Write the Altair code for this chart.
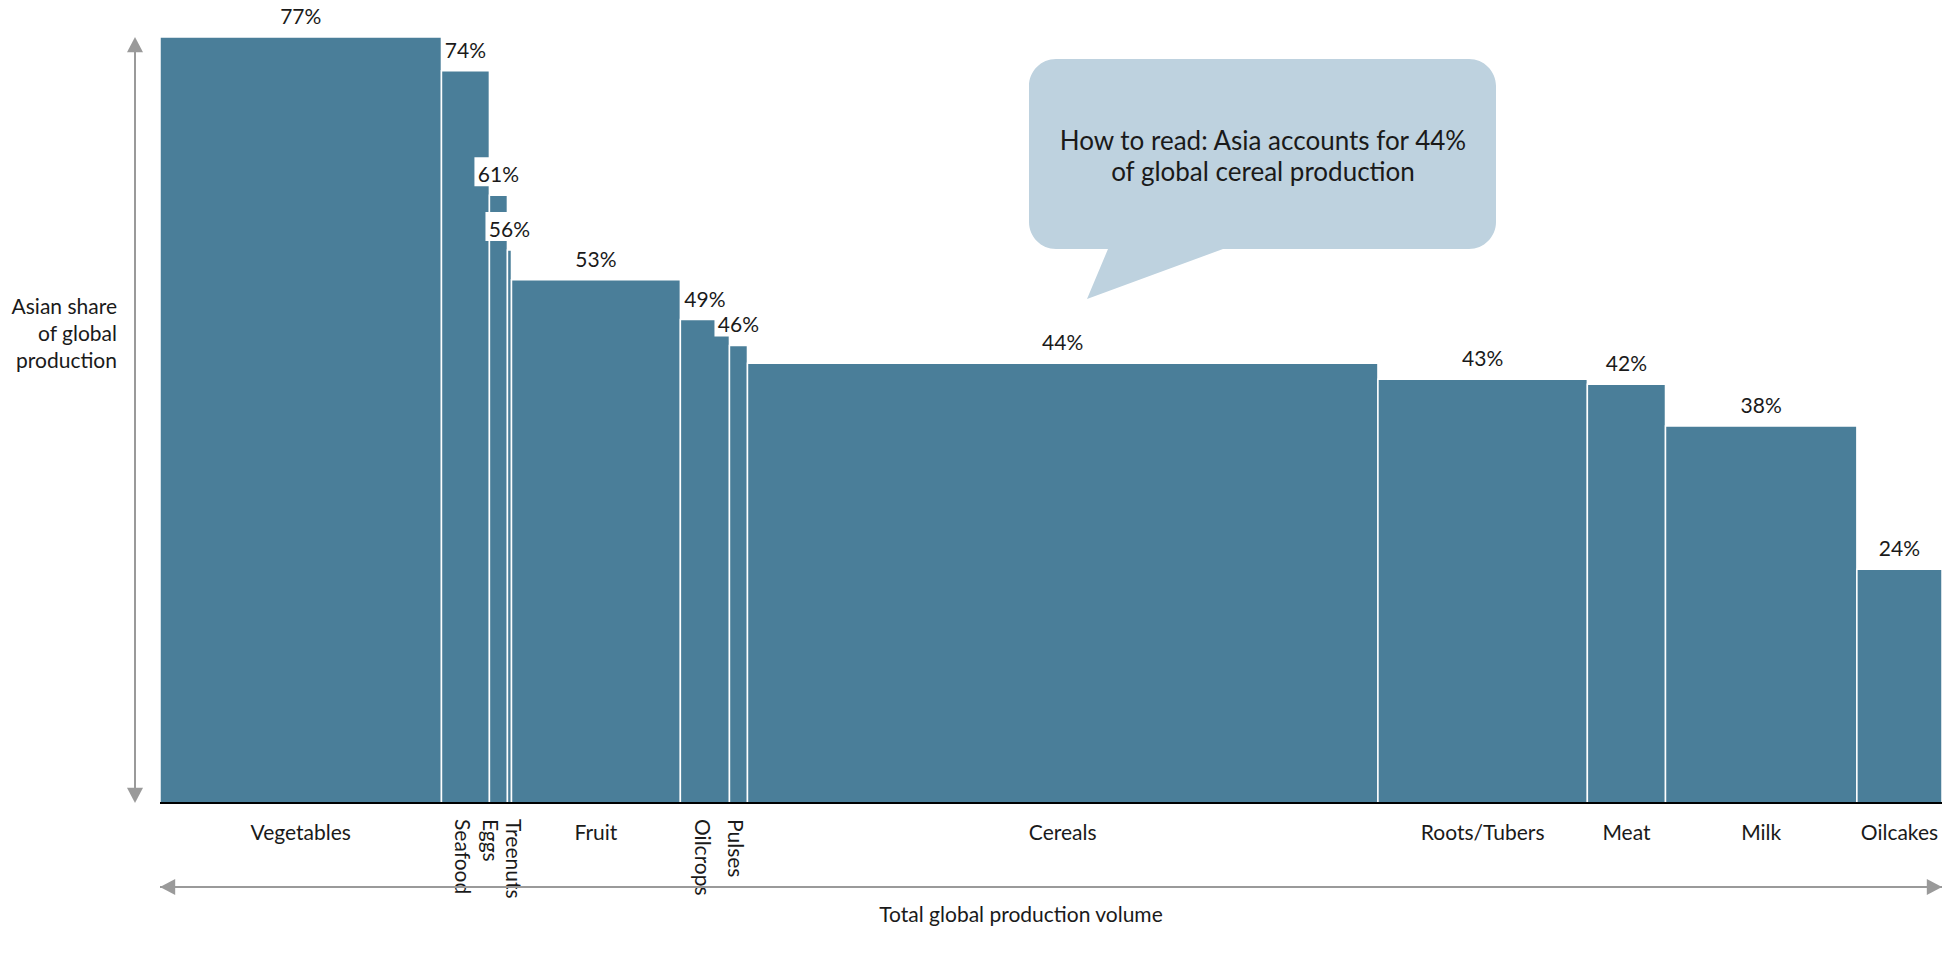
import altair as alt
import pandas as pd

# ---- data ----
categories = ["Vegetables", "Seafood", "Eggs", "Treenuts", "Fruit", "Oilcrops",
              "Pulses", "Cereals", "Roots/Tubers", "Meat", "Milk", "Oilcakes"]
# Asian share of global production (%), bar heights as drawn (labels are rounded)
asia_share = [77.0, 73.6, 61.1, 55.6, 52.6, 48.6, 46.0, 44.2, 42.6, 42.1, 37.9, 23.5]
# total global production (million tonnes)
global_volume = [1250, 213, 80, 18, 750, 218, 80, 2800, 930, 347, 850, 378]

callout_lines = "How to read: Asia accounts for 44%\nof global cereal production"
y_title = "Asian share\nof global\nproduction"
x_title = "Total global production volume"

# ---- table built from the arrays ----
df = pd.DataFrame({"category": categories, "share": asia_share, "volume": global_volume})
df["x_end"] = df["volume"].cumsum()
df["x_start"] = df["x_end"] - df["volume"]
df["x_mid"] = (df["x_start"] + df["x_end"]) / 2
df["label"] = [f"{int(v + 0.5)}%" for v in asia_share]
total = float(df["volume"].sum())
ymax = float(max(asia_share))

one = pd.DataFrame({"k": [0]})

FONT = "Lato"
FS = 21
BAR = "#4a7e99"
TXT = "#1a1a1a"
GREY = "#9a9a9a"
CALLOUT = "#bed2df"

W, H = 1782, 766
TOP = 29

xs = alt.Scale(domain=[0, total], nice=False, zero=True)
ys = alt.Scale(domain=[0, ymax], nice=False, zero=True)

base = alt.Chart(df)

bars = base.mark_rect(fill=BAR, stroke="white", strokeWidth=1.5).encode(
    x=alt.X("x_start:Q", scale=xs, axis=None),
    x2="x_end:Q",
    y=alt.Y("share:Q", scale=ys, axis=None),
    y2=alt.datum(0),
)

# white label boxes (pixel-sized rectangle anchored at the top centre of each bar)
label_box = base.mark_point(shape="M-24,-38H21V-9H-24Z", size=4, filled=True, fill="white", opacity=1).encode(
    x="x_mid:Q", y="share:Q")
pct = base.mark_text(font=FONT, fontSize=FS, fill=TXT, align="center", baseline="alphabetic", dy=-13).encode(
    x="x_mid:Q", y="share:Q", text="label:N")

# category labels: horizontal for wide bars, rotated for narrow ones
horiz = base.transform_filter("datum.volume >= 300").mark_text(
    font=FONT, fontSize=FS, fill=TXT, align="center", baseline="alphabetic", dy=37
).encode(x="x_mid:Q", y=alt.datum(0), text="category:N")

rot_kw = dict(font=FONT, fontSize=FS, fill=TXT, angle=90, align="left", baseline="middle", dx=16)
rot_a = base.transform_filter(
    "datum.volume < 300 && datum.category != 'Eggs' && datum.category != 'Treenuts'"
).mark_text(dy=4, **rot_kw).encode(x="x_mid:Q", y=alt.datum(0), text="category:N")
rot_b = base.transform_filter("datum.category == 'Eggs'").mark_text(dy=9, **rot_kw).encode(
    x="x_mid:Q", y=alt.datum(0), text="category:N")
rot_c = base.transform_filter("datum.category == 'Treenuts'").mark_text(dy=-3, **rot_kw).encode(
    x="x_mid:Q", y=alt.datum(0), text="category:N")

# baseline (x axis line)
axis_line = alt.Chart(one).mark_rule(color="black", strokeWidth=2).encode(
    x=alt.datum(0), x2=alt.datum(total), y=alt.datum(0))

# vertical double arrow on the left
v_line = alt.Chart(one).mark_rule(color=GREY, strokeWidth=2).encode(
    x=alt.value(-25), y=alt.value(10), y2=alt.value(H - 10))
v_up = alt.Chart(one).mark_point(shape="M0,0L1,1.9L-1,1.9Z", size=256, filled=True, fill=GREY,
                                 opacity=1).encode(x=alt.value(-25), y=alt.datum(ymax))
v_down = alt.Chart(one).mark_point(shape="M0,0L1,-1.9L-1,-1.9Z", size=256, filled=True, fill=GREY,
                                   opacity=1).encode(x=alt.value(-25), y=alt.datum(0))

# horizontal double arrow at the bottom
ARR_Y = H + 84
h_line = alt.Chart(one).mark_rule(color=GREY, strokeWidth=2).encode(
    x=alt.datum(0), x2=alt.datum(total), y=alt.value(ARR_Y))
h_left = alt.Chart(one).mark_point(shape="M0,0L1.9,-1L1.9,1Z", size=256, filled=True, fill=GREY,
                                   opacity=1).encode(x=alt.datum(0), y=alt.value(ARR_Y))
h_right = alt.Chart(one).mark_point(shape="M0,0L-1.9,-1L-1.9,1Z", size=256, filled=True, fill=GREY,
                                    opacity=1).encode(x=alt.datum(total), y=alt.value(ARR_Y))

# axis titles
ytitle = alt.Chart(one).mark_text(font=FONT, fontSize=FS, fill=TXT, align="right", baseline="alphabetic",
                                  lineBreak="\n", lineHeight=27).encode(
    x=alt.value(-43), y=alt.value(277), text=alt.value(y_title))
xtitle = alt.Chart(one).mark_text(font=FONT, fontSize=FS, fill=TXT, align="center", baseline="alphabetic").encode(
    x=alt.value(861), y=alt.value(H + 119), text=alt.value(x_title))

# callout bubble
bubble_path = ("M27,0H440A27,27 0 0 1 467,27V163A27,27 0 0 1 440,190H194L58,240L79,190H27"
               "A27,27 0 0 1 0,163V27A27,27 0 0 1 27,0Z")
bubble = alt.Chart(one).mark_point(shape=bubble_path, size=4, filled=True, fill=CALLOUT, opacity=1).encode(
    x=alt.value(869), y=alt.value(22))
bubble_text = alt.Chart(one).mark_text(font=FONT, fontSize=26, fill=TXT, align="center", baseline="alphabetic",
                                       lineBreak="\n", lineHeight=31).encode(
    x=alt.value(1103), y=alt.value(113), text=alt.value(callout_lines))

chart = alt.layer(
    bars, axis_line, label_box, pct, horiz, rot_a, rot_b, rot_c,
    v_line, v_up, v_down, h_line, h_left, h_right, ytitle, xtitle, bubble, bubble_text
).properties(
    width=W, height=H,
    autosize=alt.AutoSizeParams(type="none"),
    padding={"left": 152, "top": TOP, "right": 4, "bottom": 130},
    background="white",
).configure_view(stroke=None)

chart.save("out.html", embed_options={"renderer": "svg", "actions": False})
